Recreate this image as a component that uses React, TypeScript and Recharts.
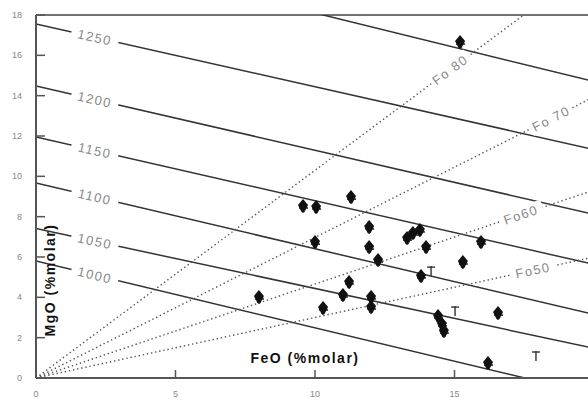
import React from 'react';
import { ScatterChart, Scatter, XAxis, YAxis, ReferenceLine, ReferenceDot } from 'recharts';

const xTicks = [0, 5, 10, 15, 20];
const yTicks = [0, 2, 4, 6, 8, 10, 12, 14, 16, 18];

// isotherms, MgO where each one meets FeO = 0 and FeO = 20
const isoLabels = ['', '1250', '1200', '1150', '1100', '1050', '1000'];
const isoMgoAt0 = [21.5, 17.55, 14.48, 11.95, 9.67, 7.41, 5.8];
const isoMgoAt20 = [14.7, 11.33, 8.11, 5.63, 3.15, 1.47, -0.82];
const isoLabelFeO = 2.11;

// olivine lines from the origin, MgO reached at FeO = 20
const foLabels = ['Fo 80', 'Fo 70', 'Fo60', 'Fo50'];
const foMgoAt20 = [20.6, 13.94, 9.32, 6.0];
const foLabelFeO = [14.84, 18.46, 17.38, 17.81];

const sampleFeO = [15.2, 11.29, 9.57, 10.04, 11.94, 11.94, 12.26, 10.0, 13.3, 13.51, 13.76, 13.98, 15.95, 15.3, 13.8, 14.41, 14.55, 14.62, 16.56, 16.2, 7.99, 10.29, 11.22, 11.0, 12.01, 12.01];
const sampleMgO = [16.66, 8.97, 8.53, 8.48, 7.49, 6.49, 5.85, 6.74, 6.94, 7.19, 7.34, 6.49, 6.74, 5.75, 5.06, 3.07, 2.68, 2.33, 3.22, 0.74, 4.02, 3.47, 4.76, 4.12, 4.02, 3.52];

const crossFeO = [14.16, 15.02, 17.92];
const crossMgO = [5.35, 3.37, 1.14];

// pixels per unit, used only to tilt the labels along their lines
const PX_X = 27.9;
const PX_Y = 20.17;
const tilt = (slope: number) => (Math.atan(slope * PX_Y / PX_X) * 180) / Math.PI;

const samples = sampleFeO.map((x, i) => ({ x, y: sampleMgO[i] }));
const crosses = crossFeO.map((x, i) => ({ x, y: crossMgO[i] }));

const Diamond = (p: any) => {
  const { cx, cy } = p;
  return (
    <g>
      <path d={`M${cx},${cy - 7} L${cx + 5},${cy - 1} L${cx + 1.5},${cy + 6} L${cx},${cy + 7} L${cx - 1.5},${cy + 6} L${cx - 5},${cy - 1} Z`} fill="#111" />
      <line x1={cx - 4} y1={cy + 2} x2={cx + 5} y2={cy + 2} stroke="#111" strokeWidth={1.4} />
    </g>
  );
};

const Cross = (p: any) => {
  const { cx, cy } = p;
  return (
    <g stroke="#333" strokeWidth={1.4}>
      <line x1={cx} y1={cy - 4} x2={cx} y2={cy + 6} />
      <line x1={cx - 4} y1={cy - 3} x2={cx + 4} y2={cy - 3} />
    </g>
  );
};

const tiltedLabel = (text: string, angle: number, w: number) => (p: any) => (
  <g transform={`translate(${p.cx},${p.cy}) rotate(${angle})`}>
    <rect x={-w / 2} y={-8} width={w} height={16} fill="#fff" />
    <text x={0} y={0} dy="0.36em" textAnchor="middle" fontSize={13} letterSpacing={1.5} fill="#8a8a8a">
      {text}
    </text>
  </g>
);

const XTick = (p: any) => {
  const { x, y, payload } = p;
  return (
    <g>
      {payload.value > 0 && <line x1={x} y1={y} x2={x} y2={y - 8} stroke="#555" strokeWidth={1.5} />}
      <text x={x} y={y + 19} textAnchor="middle" fontSize={9} fill="#888">
        {payload.value}
      </text>
    </g>
  );
};

const YTick = (p: any) => {
  const { x, y, payload } = p;
  return (
    <g>
      {payload.value > 0 && <line x1={x} y1={y} x2={x + 9} y2={y} stroke="#555" strokeWidth={1.5} />}
      <text x={x - 14} y={y + 3} textAnchor="end" fontSize={9} fill="#888">
        {payload.value}
      </text>
    </g>
  );
};

export default function App() {
  return (
    <div
      style={{
        position: 'absolute',
        left: 0,
        top: 0,
        width: 588,
        height: 401,
        overflow: 'hidden',
        background: '#fff',
        fontFamily: '"Liberation Sans", Arial, sans-serif',
      }}
    >
      <ScatterChart width={620} height={401} margin={{ top: 15, right: 26, bottom: 0, left: 0 }}>
        <XAxis
          type="number"
          dataKey="x"
          domain={[0, 20]}
          ticks={xTicks}
          height={23}
          tickSize={0}
          tickMargin={0}
          tickLine={false}
          axisLine={{ stroke: '#555', strokeWidth: 2 }}
          tick={<XTick />}
          label={{
            content: (lp: any) => (
              <text
                x={lp.viewBox.x + lp.viewBox.width / 2 - 10}
                y={lp.viewBox.y - 15}
                textAnchor="middle"
                fontSize={14}
                fontWeight="bold"
                letterSpacing={1.5}
                fill="#111"
              >
                FeO (%molar)
              </text>
            ),
          }}
        />
        <YAxis
          type="number"
          dataKey="y"
          domain={[0, 18]}
          ticks={yTicks}
          width={36}
          tickSize={0}
          tickMargin={0}
          tickLine={false}
          axisLine={{ stroke: '#555', strokeWidth: 2 }}
          tick={<YTick />}
          label={{
            content: (lp: any) => (
              <text
                transform={`translate(${lp.viewBox.x + lp.viewBox.width + 19},${lp.viewBox.y + 265}) rotate(-90)`}
                textAnchor="middle"
                fontSize={14}
                fontWeight="bold"
                letterSpacing={1.5}
                fill="#111"
              >
                MgO (%molar)
              </text>
            ),
          }}
        />
        <ReferenceLine y={18} stroke="#444" strokeWidth={1.5} />
        {isoMgoAt0.map((y0, i) => (
          <ReferenceLine
            key={'iso' + i}
            segment={[{ x: 0, y: y0 }, { x: 20, y: isoMgoAt20[i] }]}
            ifOverflow="hidden"
            stroke="#333"
            strokeWidth={1.5}
          />
        ))}
        {foMgoAt20.map((y1, i) => (
          <ReferenceLine
            key={'fo' + i}
            segment={[{ x: 0, y: 0 }, { x: 20, y: y1 }]}
            ifOverflow="hidden"
            stroke="#555"
            strokeWidth={1.4}
            strokeDasharray="1.4 2.8"
          />
        ))}
        {isoLabels.map((t, i) =>
          t ? (
            <ReferenceDot
              key={'isoL' + i}
              x={isoLabelFeO}
              y={isoMgoAt0[i] + ((isoMgoAt20[i] - isoMgoAt0[i]) * isoLabelFeO) / 20}
              shape={tiltedLabel(t, -tilt((isoMgoAt20[i] - isoMgoAt0[i]) / 20), 48)}
            />
          ) : null
        )}
        {foLabels.map((t, i) => (
          <ReferenceDot
            key={'foL' + i}
            x={foLabelFeO[i]}
            y={(foMgoAt20[i] * foLabelFeO[i]) / 20}
            shape={tiltedLabel(t, -tilt(foMgoAt20[i] / 20), 46)}
          />
        ))}
        <Scatter data={samples} shape={<Diamond />} isAnimationActive={false} />
        <Scatter data={crosses} shape={<Cross />} isAnimationActive={false} />
      </ScatterChart>
    </div>
  );
}
